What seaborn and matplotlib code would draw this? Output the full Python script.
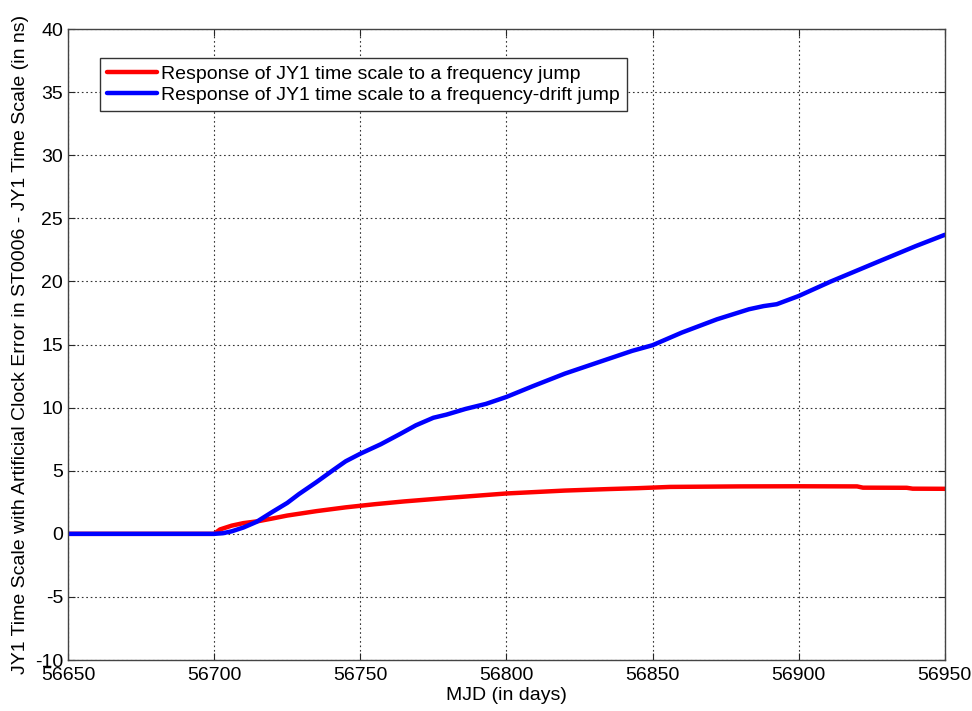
import numpy as np
import pandas as pd
import matplotlib
matplotlib.use("Agg")
import matplotlib.pyplot as plt
import seaborn as sns

# ---- data ----
red_mjd = [56650, 56700, 56702, 56706, 56710, 56715, 56720, 56725, 56735, 56745,
           56755, 56765, 56780, 56800, 56820, 56835, 56845, 56856, 56880, 56900,
           56920, 56922, 56937, 56939, 56950]
red_ns = [0, 0, 0.35, 0.65, 0.85, 1.0, 1.22, 1.45, 1.8, 2.1,
          2.35, 2.57, 2.85, 3.2, 3.43, 3.55, 3.62, 3.72, 3.76, 3.77,
          3.76, 3.66, 3.65, 3.58, 3.57]

blue_mjd = [56650, 56700, 56703, 56706, 56710, 56714.5, 56720, 56725, 56729, 56735,
            56741, 56745, 56750, 56757, 56763.5, 56769, 56775, 56779.5, 56786, 56793,
            56800, 56809, 56820, 56832, 56843, 56850, 56860, 56872, 56883, 56888,
            56892.5, 56900, 56911, 56927, 56940, 56950]
blue_ns = [0, 0, 0.05, 0.2, 0.5, 0.95, 1.75, 2.45, 3.15, 4.1,
           5.1, 5.75, 6.35, 7.1, 7.9, 8.6, 9.2, 9.45, 9.9, 10.3,
           10.85, 11.7, 12.7, 13.64, 14.5, 14.95, 15.95, 17.0, 17.8, 18.05,
           18.2, 18.85, 20.0, 21.55, 22.8, 23.7]

series_names = ["Response of JY1 time scale to a frequency jump",
                "Response of JY1 time scale to a frequency-drift jump"]
series_colors = ["#ff0000", "#0000ff"]

x_ticks = [56650, 56700, 56750, 56800, 56850, 56900, 56950]
y_ticks = [-10, -5, 0, 5, 10, 15, 20, 25, 30, 35, 40]

x_label = "MJD (in days)"
y_label = "JY1 Time Scale with Artificial Clock Error in ST0006 - JY1 Time Scale (in ns)"

# ---- build long-form table ----
df = pd.concat([
    pd.DataFrame({"MJD": red_mjd, "ns": red_ns, "series": series_names[0]}),
    pd.DataFrame({"MJD": blue_mjd, "ns": blue_ns, "series": series_names[1]}),
], ignore_index=True)

sns.set_theme(style="white")
plt.rcParams["font.family"] = ["Liberation Sans", "DejaVu Sans"]
plt.rcParams["text.color"] = "black"
plt.rcParams["axes.labelcolor"] = "black"

fig = plt.figure(figsize=(9.72, 7.11), dpi=100)
ax = fig.add_axes([0.070, 0.0717, 0.902, 0.8873])

sns.lineplot(data=df, x="MJD", y="ns", hue="series", hue_order=series_names,
             palette=series_colors, linewidth=3.2, sort=False, ax=ax,
             estimator=None)

ax.set_xlim(56650, 56950)
ax.set_ylim(-10, 40)
ax.set_xticks(x_ticks)
ax.set_yticks(y_ticks)
ax.set_xticklabels([str(t) for t in x_ticks])
ax.set_yticklabels([str(t) for t in y_ticks])
ax.tick_params(direction="in", length=5, width=0.8, colors="#262626",
               labelsize=14, labelcolor="black", top=True, right=True,
               bottom=True, left=True)
ax.tick_params(axis="x", pad=5)
ax.grid(True, linestyle=(0, (1.5, 2.5)), color="#333333", linewidth=0.8)
for sp in ax.spines.values():
    sp.set_visible(True)
    sp.set_color("#444444")
    sp.set_linewidth(1.0)

ax.set_xlabel(x_label, fontsize=14, labelpad=2, color="black")
ax.set_ylabel(y_label, fontsize=14, labelpad=4, color="black")

leg = ax.legend(loc="upper left", bbox_to_anchor=(0.0365, 0.954),
                borderaxespad=0, fontsize=14, frameon=True, fancybox=False,
                framealpha=1, edgecolor="#333333", handlelength=2.6,
                handletextpad=0.2, borderpad=0.35, labelspacing=0.2)
leg.get_frame().set_linewidth(1.0)
for text in leg.get_texts():
    text.set_color("black")
for line in leg.get_lines():
    line.set_linewidth(3.2)

fig.savefig("out.png", dpi=100, facecolor="white")
